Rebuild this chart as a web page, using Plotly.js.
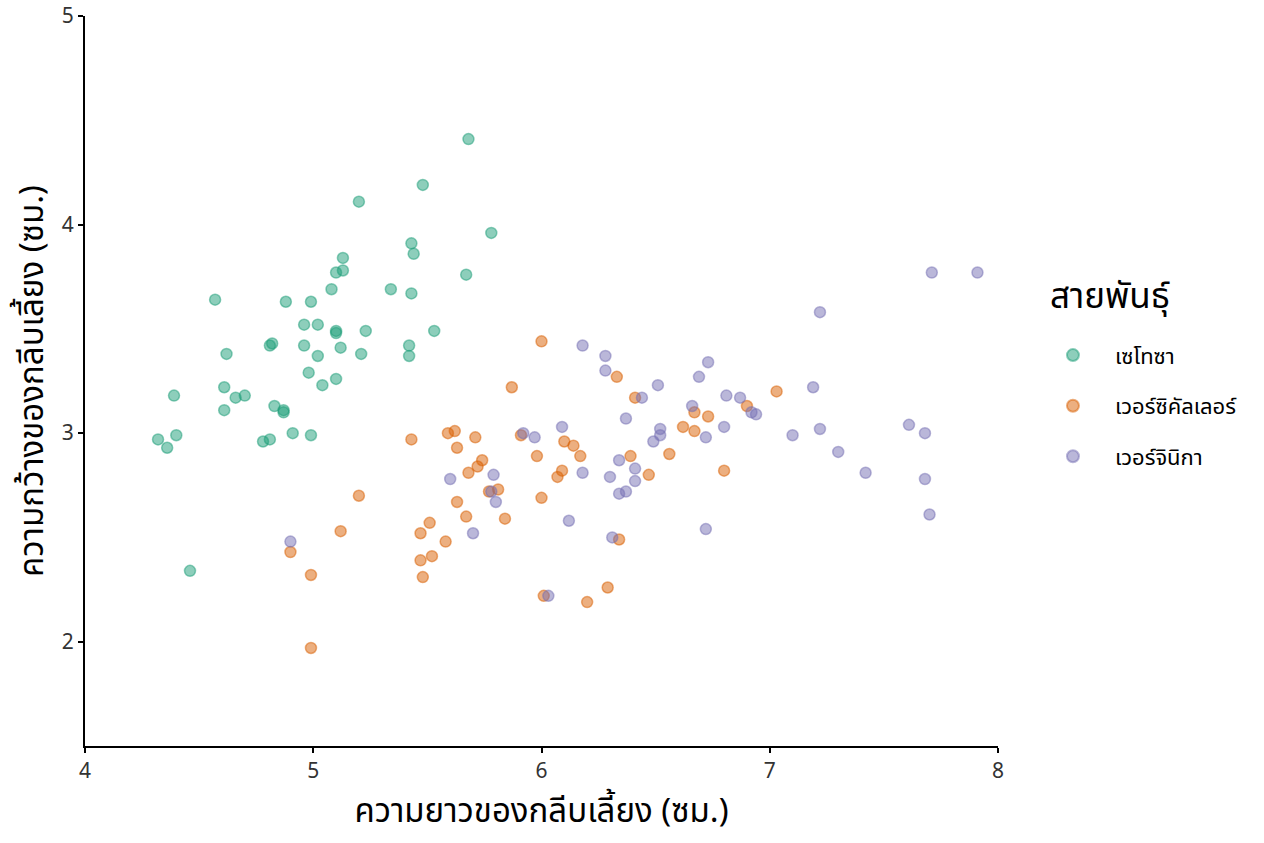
<!DOCTYPE html>
<html>
<head>
<meta charset="utf-8">
<script src="https://cdn.plot.ly/plotly-3.0.1.min.js"></script>
<style>
html,body{margin:0;padding:0;background:#fff;}
#chart{width:1264px;height:843px;}
</style>
</head>
<body>
<div id="chart"></div>
<script>
// Species names (legend labels) and legend title
const legendTitle = "สายพันธุ์";
const speciesNames = ["เซโทซา", "เวอร์ซิคัลเลอร์", "เวอร์จินิกา"];

// Setosa
const setosaX = [5.68,5.48,5.20,5.78,5.43,5.44,5.13,5.10,5.13,5.08,5.34,5.43,5.67,4.57,4.88,4.99,4.96,5.02,5.10,5.10,5.23,5.53,4.62,4.81,4.82,4.96,5.02,5.12,5.21,5.42,5.42,4.98,5.04,5.10,4.39,4.61,4.66,4.70,4.61,4.83,4.87,4.87,4.32,4.40,4.36,4.78,4.81,4.91,4.99,4.46];
const setosaY = [4.41,4.19,4.11,3.96,3.91,3.86,3.84,3.77,3.78,3.69,3.69,3.67,3.76,3.64,3.63,3.63,3.52,3.52,3.48,3.49,3.49,3.49,3.38,3.42,3.43,3.42,3.37,3.41,3.38,3.42,3.37,3.29,3.23,3.26,3.18,3.22,3.17,3.18,3.11,3.13,3.11,3.10,2.97,2.99,2.93,2.96,2.97,3.00,2.99,2.34];

// Versicolor
const versicolorX = [6.00,5.87,5.43,5.59,5.62,5.71,5.63,5.74,5.72,5.68,5.91,5.98,6.10,6.09,6.07,5.20,5.77,5.81,6.00,5.12,4.90,4.99,4.99,5.63,5.67,5.51,5.47,5.58,5.47,5.52,5.48,5.84,6.01,6.33,6.41,7.03,6.90,6.67,6.73,6.62,6.67,6.56,6.14,6.17,6.39,6.47,6.80,6.34,6.29,6.20];
const versicolorY = [3.44,3.22,2.97,3.00,3.01,2.98,2.93,2.87,2.84,2.81,2.99,2.89,2.96,2.82,2.79,2.70,2.72,2.73,2.69,2.53,2.43,2.32,1.97,2.67,2.60,2.57,2.52,2.48,2.39,2.41,2.31,2.59,2.22,3.27,3.17,3.20,3.13,3.10,3.08,3.03,3.01,2.90,2.94,2.89,2.89,2.80,2.82,2.49,2.26,2.19];

// Virginica
const virginicaX = [4.90,5.60,5.70,5.79,5.78,5.80,5.92,5.97,6.03,6.09,6.12,6.18,6.28,6.28,6.44,6.51,6.37,6.73,6.69,6.81,6.87,6.66,6.92,6.94,6.80,6.72,6.52,6.52,6.49,7.10,6.34,6.41,6.18,6.30,6.41,6.37,6.34,6.31,6.72,7.71,7.91,7.22,7.19,7.22,7.30,7.42,7.61,7.68,7.68,7.70];
const virginicaY = [2.48,2.78,2.52,2.80,2.72,2.67,3.00,2.98,2.22,3.03,2.58,3.42,3.37,3.30,3.17,3.23,3.07,3.34,3.27,3.18,3.17,3.13,3.10,3.09,3.03,2.98,3.02,2.99,2.96,2.99,2.87,2.83,2.81,2.79,2.77,2.72,2.71,2.50,2.54,3.77,3.77,3.58,3.22,3.02,2.91,2.81,3.04,3.00,2.78,2.61];

// Axis ticks
const xTicks = [4, 5, 6, 7, 8];
const yTicks = [2, 3, 4, 5];

const fills = ["rgba(27,158,119,0.5)", "rgba(217,95,2,0.5)", "rgba(117,112,179,0.5)"];

const FONT = "'Noto Sans Thai', 'Noto Sans', 'DejaVu Sans', sans-serif";

const xs = [setosaX, versicolorX, virginicaX];
const ys = [setosaY, versicolorY, virginicaY];

const traces = speciesNames.map((name, i) => ({
  type: "scatter",
  mode: "markers",
  name: name,
  legendgroup: "g" + i,
  x: xs[i],
  y: ys[i],
  marker: {
    size: 11,
    color: fills[i],
    line: {color: fills[i], width: 1.5}
  },
  hoverinfo: "x+y+name"
}));

const layout = {
  width: 1264,
  height: 843,
  paper_bgcolor: "#ffffff",
  plot_bgcolor: "#ffffff",
  margin: {l: 85, r: 266, t: 16, b: 97},
  font: {family: FONT, color: "#000"},
  xaxis: {
    range: [4, 8],
    tickvals: xTicks,
    ticktext: xTicks.map(String),
    showgrid: false,
    zeroline: false,
    showline: true,
    linecolor: "#000",
    linewidth: 2,
    ticks: "outside",
    ticklen: 5,
    tickwidth: 2,
    tickcolor: "#000",
    tickfont: {size: 21, color: "#333", family: FONT},
    title: {text: "ความยาวของกลีบเลี้ยง (ซม.)", font: {size: 33, color: "#000", family: FONT}, standoff: 5}
  },
  yaxis: {
    range: [1.5, 5],
    tickvals: yTicks,
    ticktext: yTicks.map(String),
    showgrid: false,
    zeroline: false,
    showline: true,
    linecolor: "#000",
    linewidth: 2,
    ticks: "outside",
    ticklen: 5,
    tickwidth: 2,
    tickcolor: "#000",
    tickfont: {size: 21, color: "#333", family: FONT},
    title: {text: "ความกว้างของกลีบเลี้ยง (ซม.)", font: {size: 33, color: "#000", family: FONT}, standoff: 8}
  },
  showlegend: true,
  legend: {
    x: 1.0361,
    xanchor: "left",
    y: 0.564,
    yanchor: "top",
    font: {size: 22, color: "#000", family: FONT},
    tracegroupgap: 19,
    itemwidth: 74,
    itemsizing: "constant",
    bgcolor: "rgba(0,0,0,0)"
  },
  annotations: [{
    text: legendTitle,
    xref: "paper", yref: "paper",
    x: 1.0548, y: 0.6137,
    xanchor: "left", yanchor: "middle",
    showarrow: false,
    font: {size: 35, color: "#000", family: FONT}
  }]
};

Plotly.newPlot("chart", traces, layout, {displayModeBar: false});
</script>
</body>
</html>
